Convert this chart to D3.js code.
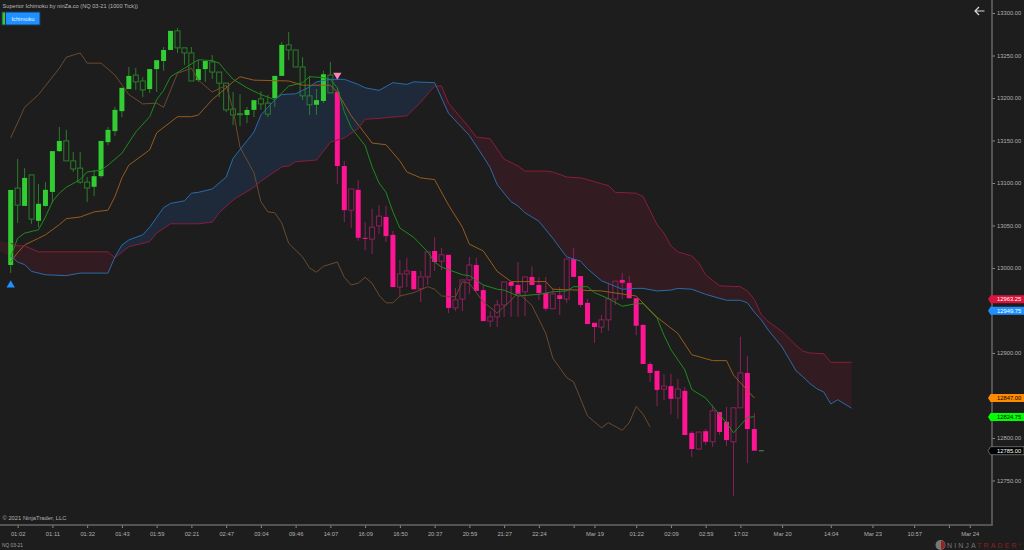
<!DOCTYPE html>
<html>
<head>
<meta charset="utf-8">
<script src="https://cdn.jsdelivr.net/npm/d3@7"></script>
<style>
  html, body { margin: 0; padding: 0; background: #1d1d1d; overflow: hidden; }
  svg { display: block; font-family: 'Liberation Sans', Arial, sans-serif; }
</style>
</head>
<body>
<div id="chart"></div>
<script>
// candles, 1000 tick bars
var opens = [13003.5,13094,13073,13109.5,13055.5,13073,13089.5,13137.5,13149.5,13126,13117.5,13101,13095.5,13108,13148,13161,13184.5,13210.5,13227,13220,13210.5,13234,13243.5,13256.5,13279,13259,13253,13221,13234,13242.5,13230.5,13217.5,13187,13181.5,13180,13186,13199,13194,13200,13226,13262.5,13256.5,13236.5,13202.5,13192,13196.5,13227,
  13207,13120,13068,13092,13035.5,13034,13049.5,13060,13039,12977.5,12993,12996.5,12975.5,12989.5,13020,13008,13015.5,12953,12963.5,12986,13003.5,12974,12937.5,12942.5,12956.5,12983.5,12980,12972,12989.5,12980,12970.5,12952,12968,12963.5,13010.5,12990.5,12959,12935.5,12930.5,12939,12963.5,12986,12982.5,12964.5,12933,12887,12879,12857.5,12861,12847,12855.5,12806,12787,12808,12795.5,12830.5,12819,12795.5,12835.5,12876.5,12810.5];
var highs = [13091.8,13128.3,13117.5,13109.5,13099,13101,13137.5,13166,13162.5,13136.5,13136.5,13107,13115.5,13149.5,13166,13189.5,13212,13236.5,13235.5,13224.5,13234,13244.5,13260,13279,13282.5,13259,13260,13244.5,13243.5,13250.5,13230.5,13217.5,13207,13204.5,13189.5,13197.5,13208,13203.5,13226,13266,13277.5,13256.5,13248,13226,13210.5,13232,13242.5,
  13212,13126,13093,13103.5,13054,13069.5,13074,13073,13043.5,13009.5,13012,12996.5,12996.5,13019,13036.5,13023.5,13015.5,12976.5,12986,13013,13012,12980,12949.5,12962.5,12983.5,12983.5,13007,12989.5,13002,12989.5,12989.5,12976.5,12977.5,13010.5,13023.5,12990.5,12963.5,12935.5,12944.5,12982.5,12984.5,12994,12990.5,12964.5,12934,12889.5,12879,12875.5,12875.5,12869.5,12860,12808,12807,12810.5,12839,12830.5,12836.5,12835.5,12919,12896.5,12829.5];
var lows = [12994,13053,13073,13052,13048,13072,13076.5,13136.5,13126,13113,13099,13077.5,13084.5,13106,13144.5,13155.5,13177.5,13210.5,13209.5,13201,13206,13207,13232,13256.5,13253,13239,13220,13219,13219,13222.5,13201,13183.5,13168,13167,13170.5,13177.5,13186,13177.5,13189.5,13226,13244.5,13236.5,13197.5,13180,13180,13194,13206,
  13099,13054,13047,13032,13021,13016.5,13040,13030.5,12977.5,12966,12977.5,12974,12960,12980,12996.5,12997.5,12947,12949.5,12949.5,12969.5,12973,12937.5,12930.5,12930.5,12942.5,12942.5,12942.5,12943.5,12980,12962.5,12949.5,12952,12944.5,12959,12989.5,12954,12934,12912,12923.5,12926,12956.5,12963.5,12963.5,12921,12887,12866,12837.5,12844.5,12828,12822.5,12803.5,12777.5,12786,12792,12789.5,12803.5,12790.5,12732,12835.5,12770.5,12785];
var closes = [13091.8,13074,13106,13057.5,13075.5,13092,13137.5,13149.5,13126,13116.5,13101,13094,13108,13149.5,13162.5,13186,13212,13226,13219,13209.5,13234,13244.5,13256.5,13279,13259,13253,13220,13234,13243.5,13230.5,13217.5,13186,13180,13181,13186,13197.5,13193,13181,13226,13262.5,13256.5,13236.5,13202.5,13192,13197.5,13228,13206,
  13120,13068,13093,13035.5,13035,13048,13061,13037.5,12977.5,12993,12996.5,12975,12989.5,13019,13007,13015.5,12953,12962.5,12986,13003.5,12973,12937.5,12942.5,12956.5,12983.5,12979,12969.5,12989.5,12980,12970.5,12952,12969.5,12963.5,13010.5,12989.5,12956.5,12934,12930.5,12939,12963.5,12984.5,12982.5,12964.5,12932,12887,12876.5,12856.5,12861,12846,12857.5,12803.5,12787,12807,12795.5,12832,12807,12797.5,12835.5,12876.5,12810.5,12785];
var trendFlipBar = 47; // bars before this are up trend

// ichimoku lines as [bar, price]
var tenkan = [[0,13013],[1,13035],[2,13041],[4,13045],[5,13060],[6,13078],[7,13088],[8,13095],[10,13104],[11,13113],[13,13115],[14,13121],[16,13135],[18,13160],[20,13178],[21,13198],[22,13209],[23,13225],[25,13235],[27,13245],[29,13244],[30,13241],[31,13231],[32,13222],[34,13212],[36,13204],[38,13198],[39,13206],[40,13214],[42,13218],[43,13225],[45,13224],[46,13222],[47,13212],[48,13184],[49,13165],[51,13144],[52,13119],[53,13100],[54,13089],[55,13066],[56,13047],[58,13036],[60,13019],[61,13007],[62,13001],[65,12992],[66,12991],[68,12980],[70,12975],[71,12974],[73,12967],[76,12969],[78,12972],[80,12973],[81,12978],[83,12978],[84,12971],[86,12964],[88,12955],[90,12958],[91,12958],[93,12941],[94,12921],[95,12904],[97,12880],[98,12857],[100,12847],[101,12837],[103,12818],[104,12806],[105,12815],[106,12824],[107,12825]];
var kijun = [[0,13007],[1,13018],[2,13027],[4,13035],[5,13039],[7,13051],[8,13058],[10,13060],[12,13066],[14,13068],[15,13084],[16,13106],[17,13121],[20,13139],[21,13159],[24,13178],[26,13178],[27,13180],[29,13198],[32,13219],[33,13225],[35,13221],[40,13220],[42,13215],[46,13215],[47,13207],[49,13179],[51,13158],[52,13147],[54,13145],[56,13126],[57,13113],[59,13106],[61,13104],[63,13074],[65,13048],[66,13028],[68,13020],[70,12996],[72,12984],[77,12984],[78,12975],[85,12973],[90,12967],[93,12942],[96,12923],[98,12898],[101,12891],[103,12891],[104,12874],[107,12847]];
var chikou = [[0,13153],[2,13189],[4,13204],[7,13235],[8,13248],[10,13253],[11,13241],[13,13241],[15,13227],[17,13204],[19,13193],[21,13194],[22,13189],[24,13229],[26,13235],[27,13221],[29,13207],[31,13215],[32,13186],[33,13142],[35,13112],[36,13078],[37,13066],[38,13065],[39,13053],[40,13029],[42,13013],[43,13000],[44,12995],[45,13002],[47,13007],[48,12989],[49,12980],[50,12982],[51,12989],[52,12982],[53,12968],[54,12959],[55,12959],[56,12967],[58,12971],[60,12978],[61,12975],[62,12967],[64,12966],[65,12984],[66,12982],[68,12960],[70,12947],[72,12962],[73,12971],[75,12956],[77,12923],[78,12894],[80,12871],[81,12866],[83,12826],[85,12812],[86,12818],[88,12809],[89,12818],[90,12837],[91,12828],[92,12813]];
var spanA = [[0,13014],[1,13007],[2,13004],[3,12996],[5,12992],[8,12991],[10,12994],[14,12994],[15,13013],[16,13027],[17,13033],[19,13039],[20,13048],[22,13071],[23,13076],[25,13079],[26,13088],[27,13089],[29,13093],[31,13107],[32,13129],[35,13160],[36,13180],[38,13198],[39,13204],[41,13205],[43,13213],[44,13219],[46,13222],[48,13222],[50,13216],[51,13212],[53,13209],[55,13218],[57,13216],[58,13219],[61,13218],[63,13182],[66,13156],[68,13131],[69,13118],[70,13098],[72,13078],[73,13073],[74,13065],[76,13055],[78,13035],[80,13013],[82,13008],[83,12999],[85,12985],[88,12975],[90,12976],[91,12976],[93,12973],[95,12974],[96,12976],[98,12975],[100,12969],[103,12962],[105,12962],[106,12959],[107,12948],[108,12939],[109,12927],[111,12907],[113,12879],[114,12872],[115,12864],[116,12858],[117,12854],[118,12840],[119,12845],[121,12835]];
var spanB = [[0,13029],[1,13026],[2,13026],[4,13019],[14,13019],[15,13012],[17,13025],[20,13031],[21,13041],[23,13052],[27,13052],[29,13054],[30,13065],[32,13080],[35,13095],[36,13102],[39,13119],[40,13120],[41,13125],[44,13127],[46,13148],[48,13153],[50,13164],[51,13175],[53,13176],[57,13179],[59,13195],[61,13214],[62,13214],[63,13194],[66,13165],[67,13154],[69,13152],[71,13128],[72,13124],[73,13120],[74,13114],[77,13114],[78,13113],[80,13107],[82,13106],[83,13104],[85,13099],[86,13097],[87,13089],[90,13088],[91,13084],[93,13051],[94,13041],[95,13026],[96,13019],[98,13014],[99,13006],[100,12992],[102,12979],[105,12978],[106,12973],[107,12963],[108,12945],[109,12937],[111,12925],[113,12909],[114,12902],[115,12900],[117,12899],[118,12889],[121,12889]];
// cloud carries on past the left edge of the screen
var cloudLeadA = [-2,13021];
var cloudLeadB = [-2,13033];

var buySignal = [0,12980];
var sellSignal = [47,13227];
var lastBar = 108;

// 12950 and 12850 sit under the price tags
var priceTicks = [13300,13250,13200,13150,13100,13050,13000,12900,12800,12750];
var timeTickBars = [1,6,11,16,21,26,31,36,41,46,51,56,61,66,71,76,81,84,90,95,100,105,111,118,124,130,135,138];
var timeTickLabels = ['01:02','01:11','01:32','01:43','01:59','02:21','02:47','03:04','09:46','14:07','16:09','16:50','20:37','20:59','21:27','22:24','','Mar 19','01:22','02:09','02:59','17:02','Mar 20','14:04','Mar 23','10:57','','Mar 24'];

var tagPrices = [12963.25,12949.75,12847,12824.75,12785];
var tagFills = ['#dc143c','#1e90ff','#ff8c00','#00ff00','#000000'];
var tagTexts = ['#ffffff','#ffffff','#000000','#000000','#ffffff'];

var w = 1024;
var h = 550;
var axisX = 992;
var axisY = 525;
var bodyWidth = 5;
var lineWidth = 1;

var svg = d3.select('#chart').append('svg')
  .attr('width', w)
  .attr('height', h)
  .attr('style', 'background-color: #1d1d1d');

var x = d3.scaleLinear().domain([0, 141.2]).range([10.7, axisX]);
var y = d3.scaleLinear().domain([12697.6, 13315.3]).range([axisY, 0]);

var line = d3.line()
  .x(function(d) { return x(d[0]); })
  .y(function(d) { return y(d[1]); });

var plot = svg.append('g').attr('class', 'plot');

// cloud: clip the area above one span with the area below the other
var areaBelow = d3.area()
  .x(function(d) { return x(d[0]); })
  .y0(axisY + 50)
  .y1(function(d) { return y(d[1]); });
var areaAbove = d3.area()
  .x(function(d) { return x(d[0]); })
  .y0(-50)
  .y1(function(d) { return y(d[1]); });

var cloudA = [cloudLeadA].concat(spanA);
var cloudB = [cloudLeadB].concat(spanB);
var defs = svg.append('defs');
defs.append('clipPath').attr('id', 'belowA').append('path').attr('d', areaBelow(cloudA));
defs.append('clipPath').attr('id', 'belowB').append('path').attr('d', areaBelow(cloudB));

plot.append('path')
  .attr('d', areaAbove(cloudB))
  .attr('clip-path', 'url(#belowA)')
  .attr('fill', '#1e2a3a');
plot.append('path')
  .attr('d', areaAbove(cloudA))
  .attr('clip-path', 'url(#belowB)')
  .attr('fill', '#321c21');

// candles
function isUp(i) { return i < trendFlipBar; }
function isFilled(i) {
  return isUp(i) ? closes[i] > opens[i] : closes[i] < opens[i];
}
function edgeColor(d, i) { return isUp(i) ? '#2a7d2a' : '#8c1f5c'; }

var candle = plot.selectAll('g.candle')
  .data(opens)
  .enter().append('g')
  .attr('class', 'candle');

// upper wick
candle.append('line')
  .attr('x1', function(d, i) { return x(i); })
  .attr('x2', function(d, i) { return x(i); })
  .attr('y1', function(d, i) { return y(highs[i]); })
  .attr('y2', function(d, i) { return y(Math.max(opens[i], closes[i])); })
  .attr('stroke', edgeColor)
  .attr('stroke-width', 1);

// lower wick
candle.append('line')
  .attr('x1', function(d, i) { return x(i); })
  .attr('x2', function(d, i) { return x(i); })
  .attr('y1', function(d, i) { return y(Math.min(opens[i], closes[i])); })
  .attr('y2', function(d, i) { return y(lows[i]); })
  .attr('stroke', edgeColor)
  .attr('stroke-width', 1);

candle.append('rect')
  .attr('x', function(d, i) { return x(i) - bodyWidth / 2; })
  .attr('width', bodyWidth)
  .attr('y', function(d, i) { return y(Math.max(opens[i], closes[i])); })
  .attr('height', function(d, i) { return Math.max(1, Math.abs(y(opens[i]) - y(closes[i]))); })
  .attr('fill', function(d, i) {
    if (isFilled(i)) return isUp(i) ? '#32cd32' : '#ff1493';
    return 'none';
  })
  .attr('stroke', function(d, i) {
    return isFilled(i) ? 'none' : edgeColor(d, i);
  })
  .attr('stroke-width', 1);

// last price stub
plot.append('line')
  .attr('x1', x(lastBar) - 2.5)
  .attr('x2', x(lastBar) + 2.5)
  .attr('y1', y(tagPrices[4]))
  .attr('y2', y(tagPrices[4]))
  .attr('stroke', '#666')
  .attr('stroke-width', 1.2);

// ichimoku lines
var lines = [
  { data: chikou, color: '#6b4a2f' },
  { data: kijun, color: '#9a5a1c' },
  { data: tenkan, color: '#1d8a1d' },
  { data: spanB, color: '#8a1c3c' },
  { data: spanA, color: '#2a6aaa' }
];
plot.selectAll('path.ichi')
  .data(lines)
  .enter().append('path')
  .attr('class', 'ichi')
  .attr('d', function(d) { return line(d.data); })
  .attr('fill', 'none')
  .attr('stroke', function(d) { return d.color; })
  .attr('stroke-width', lineWidth);

// signals
var triangle = d3.symbol().type(d3.symbolTriangle).size(30);
plot.append('path')
  .attr('d', triangle)
  .attr('transform', 'translate(' + x(buySignal[0]) + ',' + y(buySignal[1]) + ')')
  .attr('fill', '#1e90ff');
plot.append('path')
  .attr('d', triangle)
  .attr('transform', 'translate(' + x(sellSignal[0]) + ',' + y(sellSignal[1]) + ') rotate(180)')
  .attr('fill', '#f584b8');

// axes
var yAxis = d3.axisRight(y)
  .tickValues(priceTicks)
  .tickSize(3)
  .tickPadding(2)
  .tickFormat(d3.format('.2f'));
var yg = svg.append('g')
  .attr('transform', 'translate(' + axisX + ',0)')
  .call(yAxis);

var xAxis = d3.axisBottom(x)
  .tickValues(timeTickBars)
  .tickSize(3)
  .tickPadding(4)
  .tickFormat(function(d, i) { return timeTickLabels[i]; });
var xg = svg.append('g')
  .attr('transform', 'translate(0,' + axisY + ')')
  .call(xAxis);

[yg, xg].forEach(function(g) {
  g.selectAll('.domain').remove();
  g.selectAll('.tick line').attr('stroke', '#8a8a8a');
  g.selectAll('.tick text')
    .attr('fill', '#b0b0b0')
    .style('font-family', "'Liberation Sans', Arial, sans-serif")
    .style('font-size', '5.8px');
});

svg.append('line')
  .attr('x1', 0).attr('x2', axisX + 0.75)
  .attr('y1', axisY).attr('y2', axisY)
  .attr('stroke', '#666').attr('stroke-width', 1.5);
svg.append('line')
  .attr('x1', axisX).attr('x2', axisX)
  .attr('y1', 0).attr('y2', axisY)
  .attr('stroke', '#666').attr('stroke-width', 1.5);

// price tags on the axis
var tag = svg.selectAll('g.tag')
  .data(tagPrices)
  .enter().append('g')
  .attr('class', 'tag')
  .attr('transform', function(d) { return 'translate(0,' + y(d) + ')'; });

tag.append('path')
  .attr('d', 'M988,0 L990.5,-4 L1024,-4 L1024,4 L990.5,4 Z')
  .attr('fill', function(d, i) { return tagFills[i]; })
  .attr('stroke', function(d, i) { return i === 4 ? '#888' : 'none'; })
  .attr('stroke-width', 0.7);

tag.append('text')
  .attr('x', 997)
  .attr('y', 2)
  .attr('font-size', 5.8)
  .attr('fill', function(d, i) { return tagTexts[i]; })
  .text(function(d) { return d3.format('.2f')(d); });

// title, legend and the rest of the text
svg.append('text')
  .attr('x', 2.5).attr('y', 8)
  .attr('font-size', 5.65)
  .attr('fill', '#b8b8b8')
  .text('Superior Ichimoku by ninZa.co (NQ 03-21 (1000 Tick))');

svg.append('rect')
  .attr('x', 1.5).attr('y', 11.5).attr('width', 39).attr('height', 14)
  .attr('fill', '#1c3a57');
svg.append('rect')
  .attr('x', 2.5).attr('y', 12.5).attr('width', 2.5).attr('height', 12)
  .attr('fill', '#32cd32');
svg.append('rect')
  .attr('x', 6).attr('y', 12.5).attr('width', 33.5).attr('height', 12)
  .attr('fill', '#1e90ff');
svg.append('text')
  .attr('x', 23).attr('y', 21)
  .attr('text-anchor', 'middle')
  .attr('font-size', 5.8)
  .attr('fill', '#e8f2ff')
  .text('Ichimoku');

// back arrow
svg.append('path')
  .attr('d', 'M975,11 L984.5,11 M979,7 L975,11 L979,15')
  .attr('fill', 'none')
  .attr('stroke', '#d8d8d8')
  .attr('stroke-width', 1.2);

svg.append('text')
  .attr('x', 2.5).attr('y', 520)
  .attr('font-size', 5.8)
  .attr('fill', '#b0b0b0')
  .text('© 2021 NinjaTrader, LLC');

svg.append('text')
  .attr('x', 2).attr('y', 547)
  .attr('font-size', 4.8)
  .attr('fill', '#a0a0a0')
  .text('NQ 03-21');

// logo
svg.append('circle')
  .attr('cx', 940.5).attr('cy', 545).attr('r', 5)
  .attr('fill', '#777');
svg.append('path')
  .attr('d', d3.arc()({ innerRadius: 0, outerRadius: 4, startAngle: 0, endAngle: Math.PI }))
  .attr('transform', 'translate(941,545)')
  .attr('fill', '#9a2020');
var logo = svg.append('text')
  .attr('x', 947).attr('y', 548)
  .attr('font-size', 7)
  .attr('letter-spacing', 2.1)
  .attr('fill', '#777777');
logo.append('tspan').text('NINJA');
logo.append('tspan').attr('fill', '#8a2222').text('TRADER');
logo.append('tspan').attr('fill', '#8a2222').attr('font-size', 3.5).attr('letter-spacing', 0).attr('dy', -2).text('®');
</script>
</body>
</html>
